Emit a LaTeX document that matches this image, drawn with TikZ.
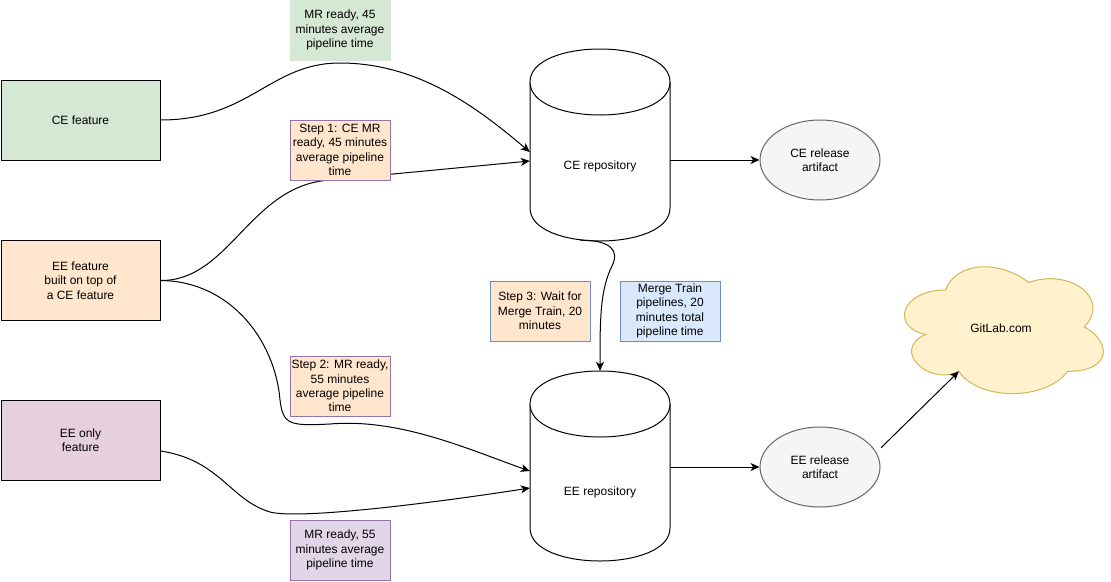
\documentclass[tikz,border=0pt]{standalone}
\usepackage{fontspec}
\setmainfont{Liberation Sans}
\usetikzlibrary{shapes.geometric,arrows.meta,calc}
\definecolor{cegreen}{HTML}{D5E8D4}
\definecolor{eeorange}{HTML}{FFE6CC}
\definecolor{eepink}{HTML}{E6D0DE}
\definecolor{eelav}{HTML}{E1D5E7}
\definecolor{purpleline}{HTML}{9673A6}
\definecolor{blueline}{HTML}{6C8EBF}
\definecolor{bluefill}{HTML}{DAE8FC}
\definecolor{artfill}{HTML}{F5F5F5}
\definecolor{artline}{HTML}{666666}
\definecolor{cloudfill}{HTML}{FFF2CC}
\definecolor{cloudline}{HTML}{D6B656}
\begin{document}
\begin{tikzpicture}[x=1pt,y=-1pt,
  every node/.style={font=\fontsize{12}{14.4}\selectfont, align=center, inner sep=0pt},
  feat/.style={draw=black, line width=1pt, minimum width=159pt, minimum height=80pt},
  lbl/.style={line width=1pt, minimum width=100pt, minimum height=60pt},
  art/.style={ellipse, draw=artline, fill=artfill, line width=1pt, minimum width=120pt, minimum height=80pt},
  repo/.style={minimum width=140pt, minimum height=190pt},
  conn/.style={line width=1pt, -{Stealth[length=9pt,width=8pt,inset=2.5pt]}},
  cyl/.style={draw=black, line width=1pt, fill=white}]

\useasboundingbox (0,0) rectangle (1111,581);
\fill[white] (0,0) rectangle (1111,581);

% feature boxes
\node[feat, fill=cegreen] (cef) at (80.5,120) {CE feature};
\node[feat, fill=eeorange] (eef) at (80.5,280.5) {EE feature\\built on top of\\a CE feature};
\node[feat, fill=eepink] (eeo) at (80.5,440.5) {EE only\\feature};

% CE repository cylinder
\draw[cyl] (530,82) -- (530,208) .. controls (530,252) and (670,252) .. (670,208)
  -- (670,82) .. controls (670,38) and (530,38) .. (530,82) -- cycle;
\draw[cyl] (530,82) .. controls (530,126) and (670,126) .. (670,82);
\node[repo] (cerepo) at (600,145) {};
\node (cerepotxt) at (600,166) {CE repository};

% EE repository cylinder
\draw[cyl] (530,404) -- (530,528) .. controls (530,572) and (670,572) .. (670,528)
  -- (670,404) .. controls (670,360) and (530,360) .. (530,404) -- cycle;
\draw[cyl] (530,404) .. controls (530,448) and (670,448) .. (670,404);
\node[repo] (eerepo) at (600,466) {};
\node (eerepotxt) at (600,492) {EE repository};

% artifacts
\node[art] (ceart) at (820,160) {CE release\\artifact};
\node[art] (eeart) at (820,467) {EE release\\artifact};

% cloud
\draw[draw=cloudline, fill=cloudfill, line width=1pt]
  (945.5,290) .. controls (901.1,290) and (890,327) .. (925.52,334.4)
  .. controls (890,350.68) and (929.96,386.2) .. (958.82,371.4)
  .. controls (978.8,401) and (1045.4,401) .. (1067.6,371.4)
  .. controls (1112,371.4) and (1112,341.8) .. (1084.25,327)
  .. controls (1112,297.4) and (1067.6,267.8) .. (1028.75,282.6)
  .. controls (1001,260.4) and (956.6,260.4) .. (945.5,290) -- cycle;
\node (gitlab) at (1001,328) {GitLab.com};
\coordinate (cloudin) at (958.8,371.4);

% connectors
\draw[conn] (cef.east) .. controls (250,120) and (270,63) .. (340,63)
  .. controls (420,63) and (480,110) .. ([yshift=-7pt]cerepo.west);
\draw[conn] (eef.east) .. controls (230,281) and (250,185) .. (330,180)
  -- ([yshift=-16pt]cerepo.west);
\draw[conn] (eef.east) .. controls (230,281) and (275,340) .. (280,400)
  .. controls (283,425) and (290,426) .. (330,424)
  .. controls (400,418) and (470,450) .. ([yshift=-5pt]eerepo.west);
\draw[conn] ([yshift=-10.5pt]eeo.east) .. controls (220,460) and (230,500) .. (270,512)
  .. controls (300,520) and (440,502) .. ([yshift=-22pt]eerepo.west);
\draw[conn] (cerepo.east |- ceart.west) -- (ceart.west);
\draw[conn] (eerepo.east |- eeart.west) -- (eeart.west);
\draw[conn] ([xshift=-20pt]cerepo.south) .. controls (610,240) and (620,250) .. (612,266)
  .. controls (600,290) and (600,320) .. (eerepo.north);
\draw[conn] ([xshift=8pt]eeart.20) -- (cloudin);

% edge labels
\node[lbl, fill=cegreen, draw=cegreen] (l1) at (340,30) {MR ready, 45\\minutes average\\pipeline time};
\node[lbl, fill=eeorange, draw=purpleline] (s1) at (340,150) {Step 1: CE MR\\ready, 45 minutes\\average pipeline\\time};
\node[lbl, fill=eeorange, draw=purpleline] (s2) at (340,386) {Step 2: MR ready,\\55 minutes\\average pipeline\\time};
\node[lbl, fill=eelav, draw=purpleline] (l4) at (340,550) {MR ready, 55\\minutes average\\pipeline time};
\node[lbl, fill=eeorange, draw=blueline] (s3) at (540,311) {Step 3: Wait for\\Merge Train, 20\\minutes};
\node[lbl, fill=bluefill, draw=blueline] (mt) at (670,311) {Merge Train\\pipelines, 20\\minutes total\\pipeline time};
\end{tikzpicture}
\end{document}
